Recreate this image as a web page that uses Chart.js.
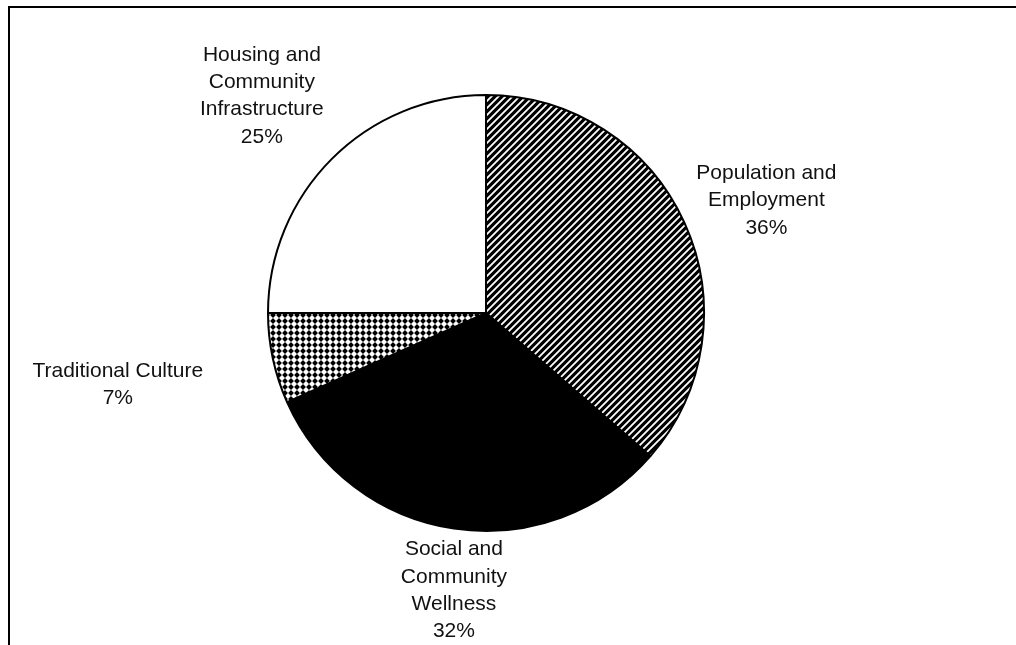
<!DOCTYPE html>
<html>
<head>
<meta charset="utf-8">
<script src="https://cdn.jsdelivr.net/npm/chart.js@4.4.1/dist/chart.umd.min.js"></script>
<style>
    body { margin: 0; background: #fff; overflow: hidden; }
    #wrap { position: relative; width: 1016px; height: 645px; }
    #frame { position: absolute; left: 8px; top: 6px; width: 1020px; height: 660px; border-top: 2px solid #000; border-left: 2px solid #000; }
    #chart { position: absolute; left: 0; top: 0; }
</style>
</head>
<body>
<div id="wrap">
    <div id="frame"></div>
    <canvas id="chart" width="1016" height="645"></canvas>
</div>
<script>
// Data
const categories = [
    ['Population and', 'Employment'],
    ['Social and', 'Community', 'Wellness'],
    ['Traditional Culture'],
    ['Housing and', 'Community', 'Infrastructure']
];
const shares = [36.4, 31.9, 6.7, 25.0];

// Fill patterns, like the old b/w Excel ones
const makeHatch = () => {
    const s = 7;
    const c = document.createElement('canvas');
    c.width = c.height = s;
    const x = c.getContext('2d');
    x.fillStyle = '#000';
    x.fillRect(0, 0, s, s);
    x.strokeStyle = '#fff';
    x.lineWidth = 1.8;
    x.beginPath();
    x.moveTo(-1, s + 1); x.lineTo(s + 1, -1);
    x.moveTo(-1, 1); x.lineTo(1, -1);
    x.moveTo(s - 1, s + 1); x.lineTo(s + 1, s - 1);
    x.stroke();
    return x.createPattern(c, 'repeat');
};

const makeChecker = () => {
    const c = document.createElement('canvas');
    c.width = c.height = 6;
    const x = c.getContext('2d');
    x.fillStyle = '#fff';
    x.fillRect(0, 0, 6, 6);
    x.fillStyle = '#000';
    x.beginPath();
    x.moveTo(3, 0.1); x.lineTo(5.9, 3); x.lineTo(3, 5.9); x.lineTo(0.1, 3);
    x.closePath();
    x.fill();
    return x.createPattern(c, 'repeat');
};

// labels outside the slices, offset from the middle of each arc's rim
const sliceLabels = {
    id: 'sliceLabels',
    afterDraw(chart, args, opts) {
        const ctx = chart.ctx;
        const meta = chart.getDatasetMeta(0);
        const values = chart.data.datasets[0].data;
        ctx.save();
        ctx.font = opts.font;
        ctx.fillStyle = opts.color;
        ctx.textAlign = 'center';
        ctx.textBaseline = 'middle';
        meta.data.forEach((arc, i) => {
            const mid = (arc.startAngle + arc.endAngle) / 2;
            const ex = arc.x + Math.cos(mid) * arc.outerRadius;
            const ey = arc.y + Math.sin(mid) * arc.outerRadius;
            const off = opts.offsets[i];
            const lines = [].concat(chart.data.labels[i], Math.round(values[i]) + '%');
            const cx = ex + off[0];
            const cy = ey + off[1];
            lines.forEach((t, j) => {
                ctx.fillText(t, cx, cy + (j - (lines.length - 1) / 2) * opts.lineHeight);
            });
        });
        ctx.restore();
    }
};

const ctx = document.getElementById('chart').getContext('2d');
new Chart(ctx, {
    type: 'pie',
    data: {
        labels: categories,
        datasets: [{
            data: shares,
            backgroundColor: [makeHatch(), '#000', makeChecker(), '#fff'],
            borderColor: '#000',
            borderWidth: 2
        }]
    },
    options: {
        responsive: false,
        animation: false,
        radius: 218,
        layout: { padding: { left: 100, right: 144, top: 60, bottom: 79 } },
        plugins: {
            legend: { display: false },
            tooltip: { enabled: false },
            sliceLabels: {
                font: '21px "Liberation Sans", Arial, sans-serif',
                color: '#111',
                lineHeight: 27.3,
                offsets: [[82, -22], [0, 62], [-155, 26], [-70, -63]]
            }
        }
    },
    plugins: [sliceLabels]
});
</script>
</body>
</html>
